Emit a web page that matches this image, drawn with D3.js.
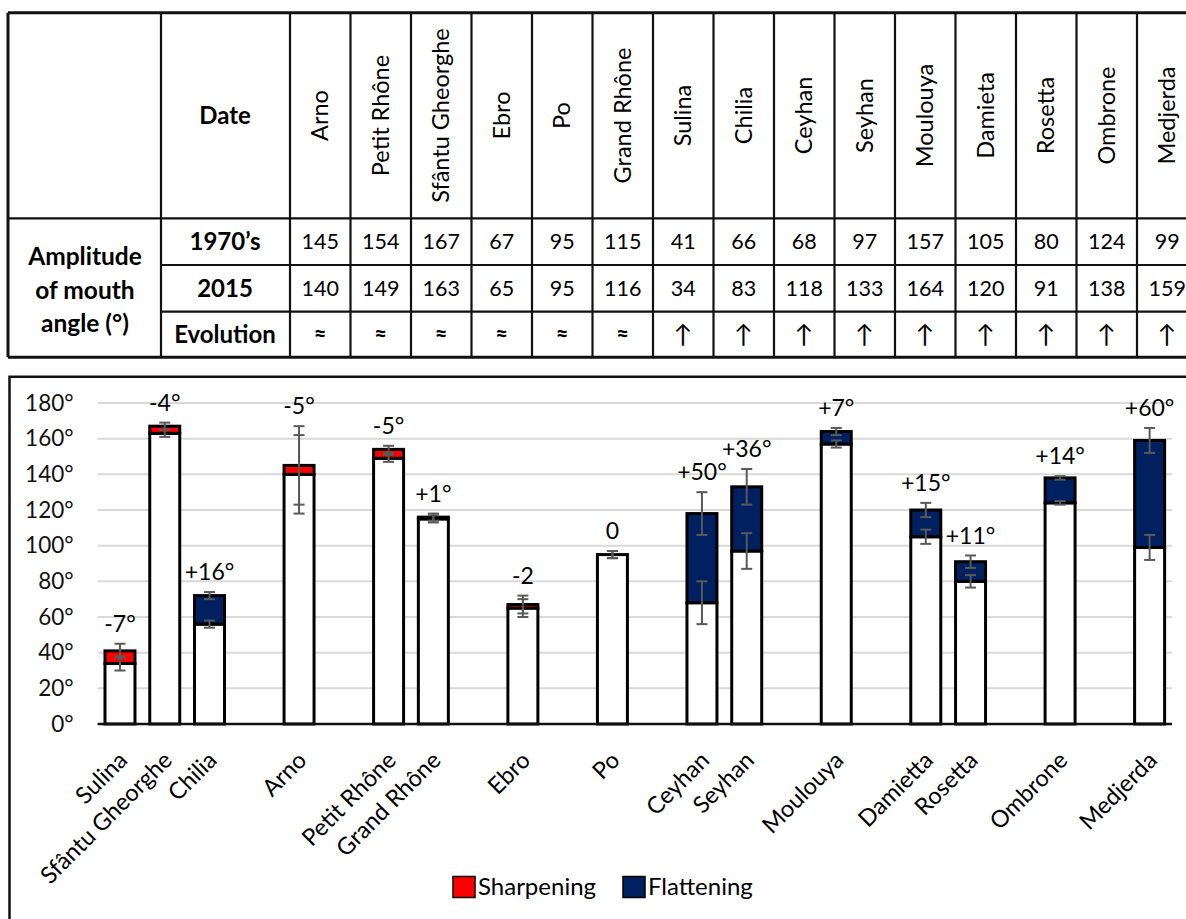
<!DOCTYPE html>
<html>
<head>
<meta charset="utf-8">
<script src="https://cdn.jsdelivr.net/npm/d3@7"></script>
<style>
  body { margin: 0; background: #fff; }
  text { font-family: Lato, "Open Sans", sans-serif; fill: #000; }
</style>
</head>
<body>
<svg id="fig" width="1186" height="919"></svg>
<script>
// table, in the order of its header
const tableRivers = ["Arno", "Petit Rhône", "Sfântu Gheorghe", "Ebro", "Po", "Grand Rhône", "Sulina",
  "Chilia", "Ceyhan", "Seyhan", "Moulouya", "Damieta", "Rosetta", "Ombrone", "Medjerda"];
const angle1970s = [145, 154, 167, 67, 95, 115, 41, 66, 68, 97, 157, 105, 80, 124, 99];
const angle2015 = [140, 149, 163, 65, 95, 116, 34, 83, 118, 133, 164, 120, 91, 138, 159];
const evolution = ["≈", "≈", "≈", "≈", "≈", "≈", "↑", "↑", "↑", "↑", "↑", "↑", "↑", "↑", "↑"];
const rowLabels = ["1970’s", "2015", "Evolution"];

// chart, "" is an empty slot between groups
const chartRivers = ["Sulina", "Sfântu Gheorghe", "Chilia", "", "Arno", "", "Petit Rhône", "Grand Rhône", "",
  "Ebro", "", "Po", "", "Ceyhan", "Seyhan", "", "Moulouya", "", "Damietta", "Rosetta", "", "Ombrone", "", "Medjerda"];
const chart1970s = [41, 167, 56, null, 145, null, 154, 115, null, 67, null, 95, null, 68, 97, null, 157, null, 105, 80, null, 124, null, 99];
const chart2015 = [34, 163, 72, null, 140, null, 149, 116, null, 65, null, 95, null, 118, 133, null, 164, null, 120, 91, null, 138, null, 159];
const chartError = [4, 2, 2, null, 22, null, 2, 2, null, 5, null, 2, null, 12, 10, null, 2, null, 4, 3.5, null, 1, null, 7];
const changeLabels = ["-7°", "-4°", "+16°", null, "-5°", null, "-5°", "+1°", null, "-2", null, "0", null,
  "+50°", "+36°", null, "+7°", null, "+15°", "+11°", null, "+14°", null, "+60°"];
const yTicks = [0, 20, 40, 60, 80, 100, 120, 140, 160, 180];
const legendItems = ["Sharpening", "Flattening"];

const red = "#ff0000", navy = "#002060";
const svg = d3.select("#fig");

// ---------- table ----------
const rowY = [12.7, 218.3, 265, 311.7, 357.3];
const col = d3.scaleBand().domain(tableRivers).range([290, 1197.5]);
const tab = svg.append("g");

tab.selectAll("text.name")
  .data(tableRivers)
  .enter()
  .append("text")
  .attr("transform", d => `translate(${col(d) + col.bandwidth() / 2},${(rowY[0] + rowY[1]) / 2}) rotate(-90)`)
  .attr("text-anchor", "middle")
  .attr("dy", "0.35em")
  .attr("font-size", 23.5)
  .text(d => d);

[angle1970s, angle2015, evolution].forEach((row, r) => {
  tab.selectAll("text.r" + r)
    .data(row)
    .enter()
    .append("text")
    .attr("x", (d, i) => col(tableRivers[i]) + col.bandwidth() / 2)
    .attr("y", (rowY[r + 1] + rowY[r + 2]) / 2)
    .attr("text-anchor", "middle")
    .attr("dy", "0.35em")
    .attr("font-size", d => d === "≈" ? 22 : d === "↑" ? 25 : 21.5)
    .attr("font-weight", d => d === "≈" ? "bold" : "normal")
    .text(d => d);
});

tab.append("text").attr("x", 225).attr("y", (rowY[0] + rowY[1]) / 2).attr("dy", "0.35em")
  .attr("text-anchor", "middle").attr("font-size", 24).attr("font-weight", "bold").text("Date");
tab.selectAll("text.rl")
  .data(rowLabels)
  .enter()
  .append("text")
  .attr("x", 225)
  .attr("y", (d, i) => (rowY[i + 1] + rowY[i + 2]) / 2)
  .attr("dy", "0.35em")
  .attr("text-anchor", "middle")
  .attr("font-size", 24)
  .attr("font-weight", "bold")
  .text(d => d);
tab.selectAll("text.amp")
  .data(["Amplitude", "of mouth", "angle (°)"])
  .enter()
  .append("text")
  .attr("x", 85)
  .attr("y", (d, i) => 256.7 + i * 33.3)
  .attr("dy", "0.35em")
  .attr("text-anchor", "middle")
  .attr("font-size", 24.5)
  .attr("font-weight", "bold")
  .text(d => d);

// grid of the table
const hLines = [[8, rowY[0], 3], [8, rowY[1], 2.2], [161, rowY[2], 2.2], [161, rowY[3], 2.2], [8, rowY[4], 3]];
hLines.forEach(([x0, yy, w]) => {
  tab.append("line").attr("x1", x0).attr("x2", 1200).attr("y1", yy).attr("y2", yy)
    .attr("stroke", "#111").attr("stroke-width", w);
});
const vLines = [8, 161, 290].concat(tableRivers.map(d => col(d) + col.bandwidth()));
vLines.forEach((xx, i) => {
  tab.append("line").attr("x1", xx).attr("x2", xx).attr("y1", rowY[0]).attr("y2", rowY[4])
    .attr("stroke", "#111").attr("stroke-width", i === 0 ? 3 : 2.2);
});

// ---------- chart ----------
svg.append("path")
  .attr("d", "M9.5,930V376.7H1200")
  .attr("fill", "none")
  .attr("stroke", "#111")
  .attr("stroke-width", 2.5);

const x = d3.scaleBand()
  .domain(d3.range(chartRivers.length))
  .range([97.6, 1172])
  .paddingInner(0.33)
  .paddingOuter(0.165);
const y = d3.scaleLinear().domain([0, 180]).range([724, 403]);

svg.append("g")
  .selectAll("line")
  .data(yTicks.slice(1))
  .enter()
  .append("line")
  .attr("x1", 97.6)
  .attr("x2", 1172)
  .attr("y1", d => y(d))
  .attr("y2", d => y(d))
  .attr("stroke", "#d9d9d9")
  .attr("stroke-width", 2);

const yAxis = svg.append("g")
  .attr("transform", "translate(97.6,0)")
  .call(d3.axisLeft(y).tickValues(yTicks).tickSize(0).tickPadding(24).tickFormat(d => d + "°"));
yAxis.select(".domain").remove();
yAxis.selectAll("text").style("font-size", "22.5px").style("fill", "#111");

const idx = d3.range(chartRivers.length).filter(i => chart1970s[i] !== null);

const bars = svg.append("g")
  .selectAll("g")
  .data(idx)
  .enter()
  .append("g");

bars.append("rect")
  .attr("x", i => x(i))
  .attr("width", x.bandwidth())
  .attr("y", i => y(Math.min(chart1970s[i], chart2015[i])))
  .attr("height", i => y(0) - y(Math.min(chart1970s[i], chart2015[i])))
  .attr("fill", "#fff")
  .attr("stroke", "#000")
  .attr("stroke-width", 3);

bars.filter(i => chart1970s[i] !== chart2015[i])
  .append("rect")
  .attr("x", i => x(i))
  .attr("width", x.bandwidth())
  .attr("y", i => y(Math.max(chart1970s[i], chart2015[i])))
  .attr("height", i => y(Math.min(chart1970s[i], chart2015[i])) - y(Math.max(chart1970s[i], chart2015[i])))
  .attr("fill", i => chart2015[i] < chart1970s[i] ? red : navy)
  .attr("stroke", "#000")
  .attr("stroke-width", 3);

// error bars on both values
idx.forEach(i => {
  const cx = x(i) + x.bandwidth() / 2;
  const e = chartError[i];
  [chart1970s[i], chart2015[i]].forEach(v => {
    const g = svg.append("g").attr("stroke", "#595959").attr("stroke-width", 2);
    g.append("line").attr("x1", cx).attr("x2", cx).attr("y1", y(v - e)).attr("y2", y(v + e));
    [v - e, v + e].forEach(c => {
      g.append("line").attr("x1", cx - 5.5).attr("x2", cx + 5.5).attr("y1", y(c)).attr("y2", y(c));
    });
  });
});

svg.append("line")
  .attr("x1", 97.6).attr("x2", 1172)
  .attr("y1", y(0)).attr("y2", y(0))
  .attr("stroke", "#111").attr("stroke-width", 2.5);

svg.append("g")
  .selectAll("text")
  .data(idx)
  .enter()
  .append("text")
  .attr("x", i => x(i) + x.bandwidth() / 2)
  .attr("y", i => y(Math.max(chart1970s[i], chart2015[i]) + chartError[i]) - 20)
  .attr("dy", "0.35em")
  .attr("text-anchor", "middle")
  .attr("font-size", 23)
  .text(i => changeLabels[i]);

const xAxis = svg.append("g")
  .attr("transform", `translate(0,${y(0)})`)
  .call(d3.axisBottom(x).tickSize(0).tickFormat(i => chartRivers[i]));
xAxis.select(".domain").remove();
xAxis.selectAll("text")
  .attr("y", 0)
  .attr("dy", "0.35em")
  .attr("text-anchor", "end")
  .attr("transform", "translate(3,32) rotate(-45)")
  .style("font-size", "23.5px")
  .style("fill", "#000");

// legend
const legend = svg.append("g")
  .selectAll("g")
  .data(legendItems)
  .enter()
  .append("g")
  .attr("transform", (d, i) => `translate(${453 + i * 170},876.5)`);
legend.append("rect")
  .attr("width", 22)
  .attr("height", 21)
  .attr("fill", (d, i) => i === 0 ? red : navy)
  .attr("stroke", "#000")
  .attr("stroke-width", 1.5);
legend.append("text")
  .attr("x", 25)
  .attr("y", 10.5)
  .attr("dy", "0.35em")
  .attr("font-size", 24)
  .text(d => d);
</script>
</body>
</html>
